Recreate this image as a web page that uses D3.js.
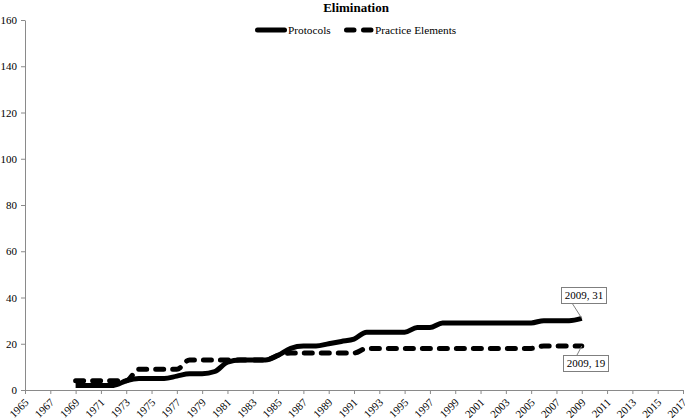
<!DOCTYPE html>
<html>
<head>
<meta charset="utf-8">
<script src="https://cdn.jsdelivr.net/npm/d3@7"></script>
<style>
  body { margin: 0; background: #fff; }
  svg { display: block; font-family: "Liberation Serif", "Times New Roman", serif; }
</style>
</head>
<body>
<div class="chart"></div>
<script>
// years on the x axis, one value per year from 1969 to 2009
const years = d3.range(1969, 2010);
const protocols = [2, 2, 2, 2, 4, 5, 5, 5, 6, 7, 7, 8, 12, 13, 13, 13, 15, 18, 19, 19,
  20, 21, 22, 25, 25, 25, 25, 27, 27, 29, 29, 29, 29, 29, 29, 29, 29, 30, 30, 30, 31];
const practiceElements = [4, 4, 4, 4, 4, 9, 9, 9, 9, 13, 13, 13, 13, 13, 13, 13, 15, 16, 16, 16,
  16, 16, 16, 18, 18, 18, 18, 18, 18, 18, 18, 18, 18, 18, 18, 18, 18, 19, 19, 19, 19];
const xTicks = d3.range(1965, 2018, 2);
const yTicks = [0, 20, 40, 60, 80, 100, 120, 140, 160];
const seriesNames = ["Protocols", "Practice Elements"];

(function () {
  const svgWidth = 685, svgHeight = 419;
  const margin = { top: 20, right: 2, bottom: 29, left: 25 };
  const width = svgWidth - margin.left - margin.right;
  const height = svgHeight - margin.top - margin.bottom;
  const serif = '"Liberation Serif", "Times New Roman", serif';
  const axisGray = "#8a8a8a";

  const svg = d3.select(".chart").append("svg")
    .attr("width", svgWidth)
    .attr("height", svgHeight);

  const g = svg.append("g")
    .attr("transform", `translate(${margin.left}, ${margin.top})`);

  const x = d3.scaleLinear().domain([1965, 2017]).range([0, width]);
  const y = d3.scaleLinear().domain([0, 160]).range([height, 0]);

  // axes
  const yAxis = g.append("g")
    .call(d3.axisLeft(y).tickValues(yTicks).tickSize(4).tickPadding(4).tickSizeOuter(0))
    .attr("font-family", serif)
    .attr("font-size", 11);

  const xAxis = g.append("g")
    .attr("transform", `translate(0, ${height})`)
    .call(d3.axisBottom(x).tickValues(xTicks).tickFormat(d3.format("d")).tickSize(4).tickSizeOuter(0))
    .attr("font-family", serif)
    .attr("font-size", 11);

  [yAxis, xAxis].forEach(a => {
    a.select(".domain").attr("stroke", axisGray);
    a.selectAll(".tick line").attr("stroke", axisGray);
    a.selectAll("text").attr("fill", "#000");
  });

  xAxis.selectAll("text")
    .attr("y", null)
    .attr("dy", null)
    .attr("text-anchor", "end")
    .attr("transform", "translate(4, 13) rotate(-45)");

  // lines
  const line = d3.line()
    .x((d, i) => x(years[i]))
    .y(d => y(d))
    .curve(d3.curveMonotoneX);

  g.append("path")
    .datum(protocols)
    .attr("fill", "none")
    .attr("stroke", "#000")
    .attr("stroke-width", 5)
    .attr("stroke-linejoin", "round")
    .attr("d", line);

  g.append("path")
    .datum(practiceElements)
    .attr("fill", "none")
    .attr("stroke", "#000")
    .attr("stroke-width", 5)
    .attr("stroke-linecap", "round")
    .attr("stroke-dasharray", "8,9")
    .attr("d", line);

  // title
  svg.append("text")
    .attr("x", 356)
    .attr("y", 12)
    .attr("text-anchor", "middle")
    .attr("font-weight", "bold")
    .attr("font-size", 13)
    .text("Elimination");

  // legend
  const legend = svg.append("g").attr("font-size", 11.3);
  legend.append("line")
    .attr("x1", 257.5).attr("x2", 284.5).attr("y1", 30).attr("y2", 30)
    .attr("stroke", "#000").attr("stroke-width", 5).attr("stroke-linecap", "round");
  legend.append("text").attr("x", 288).attr("y", 34).text(seriesNames[0]);
  legend.append("line")
    .attr("x1", 346.5).attr("x2", 371).attr("y1", 30).attr("y2", 30)
    .attr("stroke", "#000").attr("stroke-width", 5).attr("stroke-linecap", "round")
    .attr("stroke-dasharray", "7.5,9.5");
  legend.append("text").attr("x", 375).attr("y", 34).text(seriesNames[1]);

  // data labels for the last points
  const last = years.length - 1;
  const labels = [
    { v: protocols[last], bx: 561, by: 287, lx: 572 },
    { v: practiceElements[last], bx: 563, by: 355, lx: 577 }
  ];
  labels.forEach((l, k) => {
    const px = margin.left + x(years[last]);
    const py = margin.top + y(l.v);
    const bw = 45, bh = 16;
    const ly = k === 0 ? l.by + bh : l.by;
    svg.append("line")
      .attr("x1", px).attr("y1", py).attr("x2", l.lx).attr("y2", ly)
      .attr("stroke", "#7f7f7f").attr("stroke-width", 1);
    svg.append("rect")
      .attr("x", l.bx + 0.5).attr("y", l.by + 0.5).attr("width", bw).attr("height", bh)
      .attr("fill", "#fff").attr("stroke", "#7f7f7f").attr("stroke-width", 1);
    svg.append("text")
      .attr("x", l.bx + bw / 2 + 0.5).attr("y", l.by + 12)
      .attr("text-anchor", "middle")
      .attr("font-size", 11)
      .text(`${years[last]}, ${l.v}`);
  });
})();
</script>
</body>
</html>
